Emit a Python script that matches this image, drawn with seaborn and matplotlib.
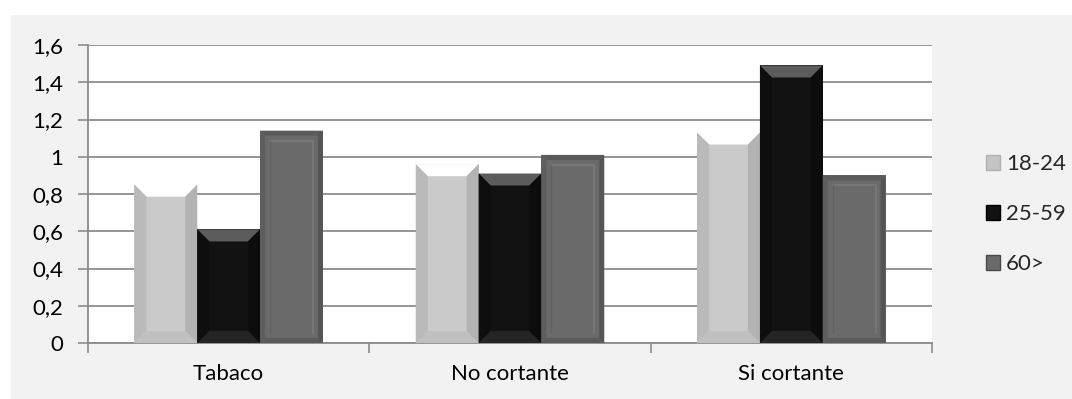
import numpy as np
import pandas as pd
import seaborn as sns
import matplotlib.pyplot as plt
from matplotlib.patches import Polygon, FancyBboxPatch, Patch

categories = ["Tabaco", "No cortante", "Si cortante"]
groups = ["18-24", "25-59", "60>"]
v_18_24 = [0.85, 0.96, 1.13]
v_25_59 = [0.61, 0.91, 1.49]
v_60 = [1.14, 1.01, 0.90]
y_ticks = [0, 0.2, 0.4, 0.6, 0.8, 1.0, 1.2, 1.4, 1.6]
y_labels = ["0", "0,2", "0,4", "0,6", "0,8", "1", "1,2", "1,4", "1,6"]

df = pd.DataFrame({
    "cat": categories * 3,
    "grupo": [g for g in groups for _ in categories],
    "valor": v_18_24 + v_25_59 + v_60,
})

# face, top, left, right, bottom colours for the bevel look
bevel = {
    "18-24": ("#cacaca", "#ffffff", "#bababa", "#b3b3b3", "#c0c0c0"),
    "25-59": ("#121212", "#5c5c5c", "#0e0e0e", "#0c0c0c", "#242424"),
    "60>": ("#6a6a6a", "#5a5a5a", "#5e5e5e", "#555555", "#5a5a5a"),
}
bevel_px = {"18-24": 12, "25-59": 12, "60>": 5}

sns.set_theme(style="white")
plt.rcParams['font.family'] = ['Lato', 'DejaVu Sans']

W, H = 1072, 399
fig = plt.figure(figsize=(W / 100, H / 100), dpi=100)
fig.patch.set_facecolor("white")
fig.patches.append(FancyBboxPatch((11 / W, 0), 1 - 11 / W, 1 - 15 / H,
                                  boxstyle="square,pad=0", transform=fig.transFigure,
                                  facecolor="#f2f2f2", edgecolor="none", zorder=-10))

ax = fig.add_axes([88 / W, 1 - 343 / H, (932 - 88) / W, (343 - 45) / H])
ax.set_facecolor("white")

sns.barplot(data=df, x="cat", y="valor", hue="grupo", hue_order=groups, order=categories,
            palette=[bevel[g][0] for g in groups], width=0.67, gap=0, dodge=True,
            edgecolor="none", linewidth=0, ax=ax, legend=False, zorder=3)

ax.set_xlim(-0.5, 2.5)
ax.set_ylim(0, 1.6)

# pixel to data scale
sx = 3 / (932 - 88)
sy = 1.6 / (343 - 45)

bars = [p for p in ax.patches if p.get_height() > 0]
for i, p in enumerate(bars):
    g = groups[i // len(categories)]
    face, top, left, right, bottom = bevel[g]
    x0, w, h = p.get_x(), p.get_width(), p.get_height()
    x1 = x0 + w
    bx, by = bevel_px[g] * sx, bevel_px[g] * sy
    polys = [
        ([(x0, h), (x1, h), (x1 - bx, h - by), (x0 + bx, h - by)], top),
        ([(x0, 0), (x0, h), (x0 + bx, h - by), (x0 + bx, by)], left),
        ([(x1, 0), (x1, h), (x1 - bx, h - by), (x1 - bx, by)], right),
        ([(x0, 0), (x1, 0), (x1 - bx, by), (x0 + bx, by)], bottom),
    ]
    for pts, c in polys:
        ax.add_patch(Polygon(pts, closed=True, facecolor=c, edgecolor="none", zorder=4))
    if g == "60>":
        # inner highlight line
        ix, iy = 10 * sx, 10 * sy
        ax.plot([x0 + ix, x1 - ix, x1 - ix], [h - iy, h - iy, iy], color="#7a7a7a",
                lw=1.2, zorder=5)
        ax.plot([x0 + ix, x0 + ix], [iy, h - iy], color="#626262", lw=1.0, zorder=5)

ax.set_yticks(y_ticks)
ax.set_yticklabels(y_labels)
ax.yaxis.grid(True, color="#8c8c8c", linewidth=1.3, zorder=0)
ax.set_axisbelow(True)
ax.tick_params(axis="y", which="major", left=True, length=7, width=1.2, color="#8c8c8c",
               pad=11, labelsize=16, labelcolor="black")

ax.set_xticks(range(len(categories)))
ax.set_xticklabels(categories)
ax.set_xticks([-0.5, 0.5, 1.5, 2.5], minor=True)
ax.tick_params(axis="x", which="major", bottom=False, length=0, pad=15, labelsize=16,
               labelcolor="black")
ax.tick_params(axis="x", which="minor", bottom=True, length=7, width=1.2, color="#8c8c8c")
ax.set_xlabel("")
ax.set_ylabel("")

for s in ["top", "right"]:
    ax.spines[s].set_visible(False)
for s in ["left", "bottom"]:
    ax.spines[s].set_color("#8c8c8c")
    ax.spines[s].set_linewidth(1.3)

handles = [Patch(facecolor="#c4c4c4", edgecolor="#b0b0b0", linewidth=1.0),
           Patch(facecolor="#111111", edgecolor="#000000"),
           Patch(facecolor="#6a6a6a", edgecolor="#4a4a4a")]
leg = fig.legend(handles, groups, loc="center left", bbox_to_anchor=(966 / W, 1 - 214 / H),
                 frameon=False, fontsize=16, handlelength=0.65, handleheight=0.65,
                 handletextpad=0.25, labelspacing=1.35)

fig.savefig("out.png", dpi=100)
